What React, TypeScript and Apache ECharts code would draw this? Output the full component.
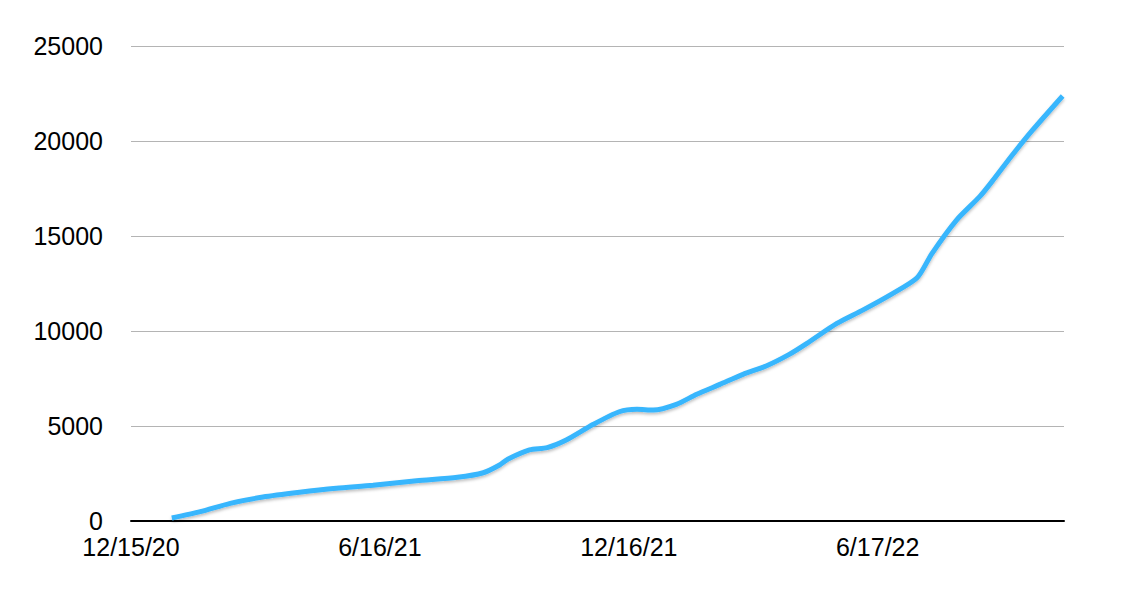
import { useEffect, useRef } from "react";
import * as echarts from "echarts";

// days counted from 12/15/20
const dayOffsets = [
  30, 51, 73, 97, 124, 151, 178, 210, 240, 259, 271, 277, 293, 306, 320, 340,
  359, 372, 384, 401, 416, 433, 450, 467, 484, 497, 519, 538, 558, 578, 589,
  607, 624, 633, 648, 663, 685,
];
const totals = [
  158, 490, 930, 1260, 1510, 1720, 1880, 2120, 2300, 2540, 2950, 3250, 3740,
  3860, 4260, 5090, 5750, 5880, 5840, 6140, 6670, 7190, 7720, 8160, 8770, 9350,
  10400, 11100, 11890, 12800, 14090, 15840, 17070, 17860, 19260, 20580, 22370,
];
const tickDays = [0, 183, 366, 549];
const tickLabels = ["12/15/20", "6/16/21", "12/16/21", "6/17/22"];

export default function App() {
  const chartRef = useRef<HTMLDivElement>(null);

  useEffect(() => {
    document.body.style.margin = "0";
    if (!chartRef.current) return;
    const chart = echarts.init(chartRef.current, null, { renderer: "svg" });

    chart.setOption({
      animation: false,
      backgroundColor: "#ffffff",
      grid: { left: 131, right: 68, top: 46, bottom: 83 },
      xAxis: {
        type: "value",
        min: 0,
        max: 686,
        interval: 183,
        axisLine: { show: true, lineStyle: { color: "#000000", width: 2 } },
        axisTick: { show: false },
        splitLine: { show: false },
        axisLabel: {
          margin: 16,
          fontSize: 25,
          lineHeight: 20,
          color: "#000000",
          fontFamily: "Liberation Sans",
          showMaxLabel: false,
          formatter: (v: number) => {
            const i = tickDays.indexOf(Math.round(v));
            return i >= 0 ? tickLabels[i] : "";
          },
        },
      },
      yAxis: {
        type: "value",
        min: 0,
        max: 25000,
        interval: 5000,
        axisLine: { show: false },
        axisTick: { show: false },
        splitLine: { show: true, lineStyle: { color: "#b4b4b4", width: 1 } },
        axisLabel: {
          margin: 28,
          fontSize: 25,
          lineHeight: 20,
          color: "#000000",
          fontFamily: "Liberation Sans",
          formatter: (v: number) => String(v),
        },
      },
      series: [
        {
          type: "line",
          data: dayOffsets.map((d, i) => [d, totals[i]]),
          smooth: 0.25,
          showSymbol: false,
          lineStyle: {
            color: "#38b6fd",
            width: 5,
            shadowColor: "rgba(0,0,0,0.25)",
            shadowBlur: 3,
            shadowOffsetY: 2,
          },
        },
      ],
    });

    return () => {
      chart.dispose();
    };
  }, []);

  return <div ref={chartRef} style={{ width: 1132, height: 604 }} />;
}
